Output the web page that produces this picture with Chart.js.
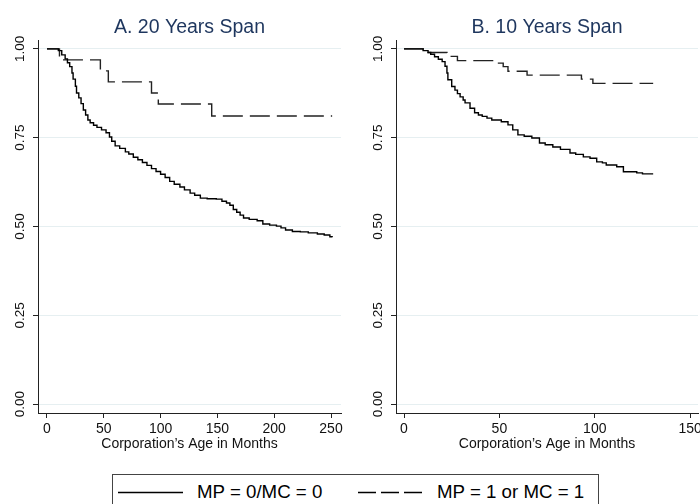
<!DOCTYPE html>
<html>
<head>
<meta charset="utf-8">
<script src="https://cdn.jsdelivr.net/npm/chart.js@4.4.1/dist/chart.umd.min.js"></script>
<style>
  html, body { margin: 0; padding: 0; background: #fff; }
  body { width: 700px; height: 504px; position: relative; overflow: hidden; font-family: "Liberation Sans", Arial, sans-serif; }
  .panel { position: absolute; top: 0; }
  #legend { position: absolute; left: 112px; top: 474px; width: 487px; height: 44px; border: 1px solid #444; box-sizing: border-box; }
  #legend svg { position: absolute; top: 0; left: 0; }
  #legend span { position: absolute; top: 7px; font-size: 18.7px; line-height: 20px; color: #000; white-space: nowrap; }
</style>
</head>
<body>
<canvas id="panelA" class="panel" width="350" height="460" style="left:0"></canvas>
<canvas id="panelB" class="panel" width="350" height="460" style="left:350px"></canvas>
<div id="legend">
  <svg width="485" height="40">
    <line x1="5" y1="17.5" x2="70" y2="17.5" stroke="#000" stroke-width="1.5"/>
    <line x1="245" y1="17.5" x2="310" y2="17.5" stroke="#000" stroke-width="1.5" stroke-dasharray="18 5"/>
  </svg>
  <span id="legA" style="left:84px"></span>
  <span id="legB" style="left:324px"></span>
</div>
<script>
const panelTitles = ['A. 20 Years Span', 'B. 10 Years Span'];
const seriesLabels = ['MP = 0/MC = 0', 'MP = 1 or MC = 1'];
const xTitle = 'Corporation\u2019s Age in Months';
const yTicks = [0, 0.25, 0.5, 0.75, 1];
const xTicksA = [0, 50, 100, 150, 200, 250];
const xTicksB = [0, 50, 100, 150];

// 20 year span
const monthsA0 = [0, 10, 13, 16, 18, 20, 22, 23, 25, 26, 28, 30, 32, 34, 36, 38, 41, 44, 48, 52,
  55, 57, 60, 64, 69, 72, 76, 80, 84, 88, 92, 96, 100, 104, 108, 112, 117, 121, 126, 130,
  135, 141, 149, 154, 158, 161, 164, 167, 170, 173, 178, 185, 190, 196, 202, 206, 210, 216, 223, 230,
  238, 244, 249, 251];
const survA0 = [1, 0.995, 0.983, 0.972, 0.961, 0.95, 0.932, 0.915, 0.895, 0.876, 0.862, 0.846, 0.828, 0.814, 0.8, 0.792, 0.785, 0.779, 0.772, 0.764,
  0.752, 0.74, 0.727, 0.72, 0.71, 0.704, 0.695, 0.688, 0.68, 0.672, 0.663, 0.655, 0.647, 0.638, 0.627, 0.619, 0.611, 0.603, 0.594, 0.588,
  0.58, 0.578, 0.577, 0.571, 0.566, 0.56, 0.548, 0.54, 0.532, 0.524, 0.52, 0.516, 0.507, 0.504, 0.501, 0.496, 0.49, 0.486, 0.485, 0.482,
  0.479, 0.476, 0.471, 0.47];
const monthsA1 = [0, 11, 47, 54, 92, 98, 145, 251];
const survA1 = [1, 0.969, 0.938, 0.907, 0.876, 0.845, 0.811, 0.811];

// 10 year span
const monthsB0 = [0, 10, 12.6, 14, 16, 18, 20, 21.5, 22.5, 23, 25, 26.7, 28, 29.4, 31, 32, 34.6, 37, 39, 41,
  43.5, 46, 51, 54.5, 57, 59.7, 63, 67, 71, 74, 78, 82, 87, 90, 94, 97.5, 101, 104, 106, 111.5,
  115, 122, 125, 130.6];
const survB0 = [1, 0.995, 0.99, 0.985, 0.978, 0.971, 0.964, 0.951, 0.932, 0.913, 0.894, 0.884, 0.874, 0.865, 0.856, 0.848, 0.833, 0.82, 0.814, 0.81,
  0.805, 0.8, 0.795, 0.786, 0.772, 0.758, 0.754, 0.749, 0.735, 0.73, 0.724, 0.717, 0.707, 0.703, 0.696, 0.692, 0.682, 0.679, 0.673, 0.668,
  0.654, 0.651, 0.648, 0.648];
const monthsB1 = [0, 11, 22.5, 28, 47.7, 52, 54.5, 64.5, 93, 99, 130.6];
const survB1 = [1, 0.99, 0.979, 0.967, 0.96, 0.95, 0.937, 0.926, 0.915, 0.903, 0.903];

document.getElementById('legA').textContent = seriesLabels[0];
document.getElementById('legB').textContent = seriesLabels[1];

Chart.defaults.font.family = '"Liberation Sans", Arial, sans-serif';
Chart.defaults.color = '#111';

const toPoints = (xs, ys) => xs.map((x, i) => ({x: x, y: ys[i]}));

function makePanel(id, title, xTicks, xMin, xMax, solid, dashed, axisLeft, padRight) {
  new Chart(document.getElementById(id), {
    type: 'line',
    data: {
      datasets: [{
        label: seriesLabels[0],
        data: solid,
        borderColor: '#000',
        borderWidth: 1.4,
        stepped: 'before',
        pointRadius: 0
      }, {
        label: seriesLabels[1],
        data: dashed,
        borderColor: '#222',
        borderWidth: 1.4,
        borderDash: [20, 7],
        stepped: 'before',
        pointRadius: 0
      }]
    },
    options: {
      responsive: false,
      animation: false,
      events: [],
      layout: { padding: { left: 0, right: padRight, top: 0, bottom: 0 } },
      plugins: {
        legend: { display: false },
        tooltip: { enabled: false },
        title: {
          display: true,
          fullSize: false,
          text: title,
          color: '#1e365e',
          font: { size: 19.5, weight: 'normal' },
          padding: { top: 15.5, bottom: 1.1 }
        }
      },
      scales: {
        x: {
          type: 'linear',
          min: xMin,
          max: xMax,
          afterBuildTicks: s => { s.ticks = xTicks.map(v => ({value: v})); },
          afterFit: s => { s.height = 47; s.paddingLeft = 0; s.paddingRight = 0; },
          grid: { drawOnChartArea: false, tickLength: 5, tickColor: '#222' },
          border: { color: '#222', width: 1 },
          ticks: { font: { size: 14 }, padding: 3, maxRotation: 0, color: '#111' },
          title: { display: true, text: xTitle, font: { size: 14 }, padding: { top: 0, bottom: 7 }, color: '#111' }
        },
        y: {
          min: -0.025,
          max: 1.025,
          afterBuildTicks: s => { s.ticks = yTicks.map(v => ({value: v})); },
          afterFit: s => { s.width = axisLeft; s.paddingTop = 0; s.paddingBottom = 0; },
          grid: { color: '#e6eff1', tickLength: 5, tickColor: '#222' },
          border: { color: '#222', width: 1 },
          ticks: {
            font: { size: 13.5 },
            minRotation: 90,
            maxRotation: 90,
            crossAlign: 'center',
            padding: 0,
            color: '#111',
            callback: v => v.toFixed(2)
          }
        }
      }
    }
  });
}

makePanel('panelA', panelTitles[0], xTicksA, -7.9, 258.8,
  toPoints(monthsA0, survA0), toPoints(monthsA1, survA1), 38, 9);
makePanel('panelB', panelTitles[1], xTicksB, -4.2, 154.1,
  toPoints(monthsB0, survB0), toPoints(monthsB1, survB1), 46, 2);
</script>
</body>
</html>
